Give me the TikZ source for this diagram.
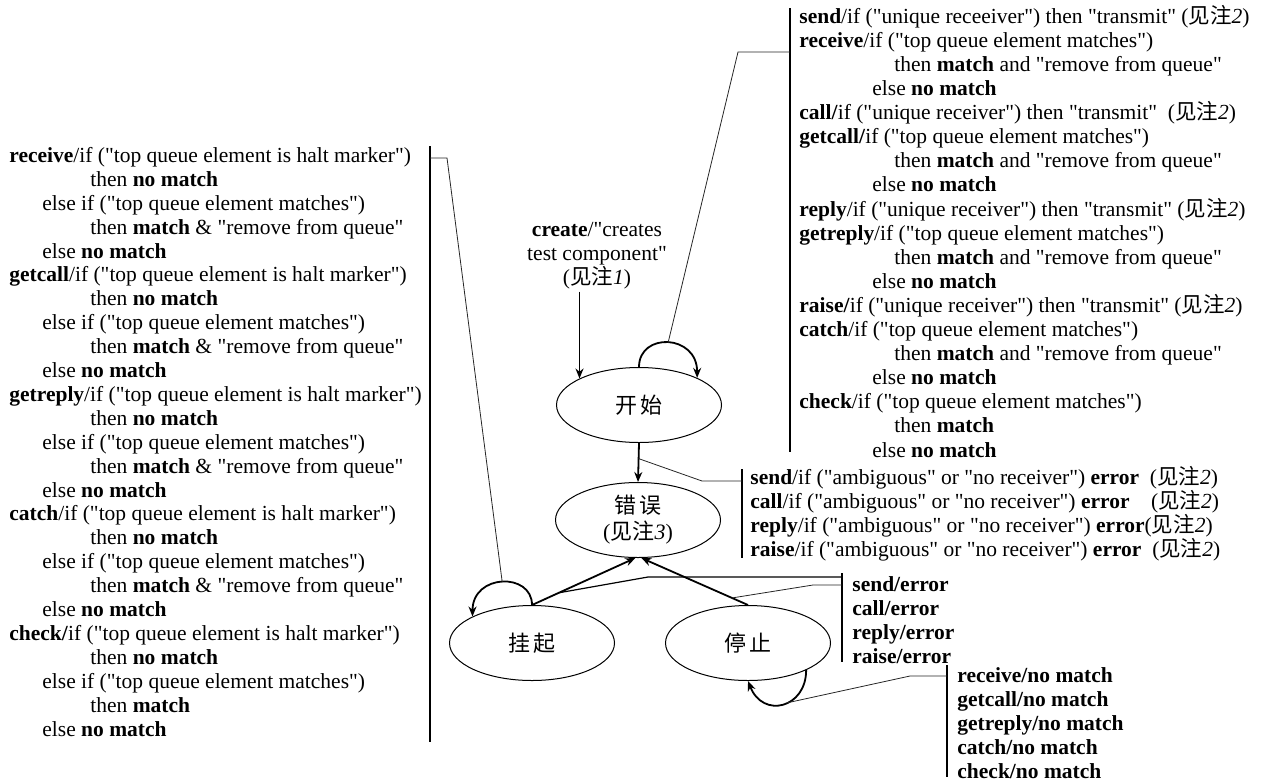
\documentclass[tikz,border=0pt]{standalone}
\usepackage{fontspec}
\setmainfont{Liberation Serif}[Ligatures=TeXOff]
\newfontfamily\cjk{Noto Sans CJK SC}
\usetikzlibrary{shapes.geometric,arrows.meta}
\newcommand{\seenote}[1]{({\cjk 见注}\textit{#1})}

\begin{document}
\begin{tikzpicture}[
        x=0.5pt, y=-0.5pt,
        state/.style={ellipse, draw, line width=0.5pt, inner sep=0pt,
            minimum width=82.5pt, minimum height=37.5pt, align=center,
            font=\fontsize{11}{13}\selectfont},
        arr/.style={-{Stealth[length=5pt,width=4pt]}, line width=0.9pt},
        link/.style={line width=0.4pt, black!85},
        bracket/.style={line width=1pt},
        rules/.style={anchor=base west, inner sep=0pt, align=left,
            font=\fontsize{10.75}{11.95}\selectfont}
    ]
    \useasboundingbox (0,0) rectangle (1267,782);

    % states
    \node[state] (kaishi) at (639,405) {\cjk 开\,始};
    \node[state] (cuowu) at (638,520) {{\cjk 错\,误}\\\seenote{3}};
    \node[state] (guaqi) at (532,643) {\cjk 挂\,起};
    \node[state] (tingzhi) at (748,643) {\cjk 停\,止};

    \node[align=center, inner sep=1pt, font=\fontsize{10.75}{11.95}\selectfont] (create) at (597,256)
        {\textbf{create}/"creates\\test component"\\\seenote{1}};

    % transitions
    \draw[arr] (create.south -| kaishi.156) -- (kaishi.156);
    \draw[arr] (kaishi.90) .. controls +(0,-35) and +(0,-44) .. (kaishi.25) coordinate[pos=0.5] (kloop);
    \draw[arr] (kaishi.south) -- (cuowu.north) coordinate[pos=0.4] (kc);
    \draw[arr] (guaqi.90) .. controls +(0,-33) and +(0,-43) .. (guaqi.156) coordinate[pos=0.5] (gloop);
    \draw[arr] (guaqi.north) -- (cuowu.266) coordinate[pos=0.26] (gc);
    \draw[arr] (tingzhi.north) -- (cuowu.275) coordinate[pos=0.15] (tc);
    \draw[arr] (tingzhi.335) .. controls +(0,38) and +(15,38) .. (tingzhi.270) coordinate[pos=0.45] (tloop);

    % rule lists (placed by the baseline of their last line)
    \node[rules] (haltrules) at (9,736) {%
        \textbf{receive}/if ("top queue element is halt marker")\\
        \hspace*{40.5pt}then \textbf{no match}\\
        \hspace*{16.5pt}else if ("top queue element matches")\\
        \hspace*{40.5pt}then \textbf{match} \& "remove from queue"\\
        \hspace*{16.5pt}else \textbf{no match}\\
        \textbf{getcall}/if ("top queue element is halt marker")\\
        \hspace*{40.5pt}then \textbf{no match}\\
        \hspace*{16.5pt}else if ("top queue element matches")\\
        \hspace*{40.5pt}then \textbf{match} \& "remove from queue"\\
        \hspace*{16.5pt}else \textbf{no match}\\
        \textbf{getreply}/if ("top queue element is halt marker")\\
        \hspace*{40.5pt}then \textbf{no match}\\
        \hspace*{16.5pt}else if ("top queue element matches")\\
        \hspace*{40.5pt}then \textbf{match} \& "remove from queue"\\
        \hspace*{16.5pt}else \textbf{no match}\\
        \textbf{catch}/if ("top queue element is halt marker")\\
        \hspace*{40.5pt}then \textbf{no match}\\
        \hspace*{16.5pt}else if ("top queue element matches")\\
        \hspace*{40.5pt}then \textbf{match} \& "remove from queue"\\
        \hspace*{16.5pt}else \textbf{no match}\\
        \textbf{check/}if ("top queue element is halt marker")\\
        \hspace*{40.5pt}then \textbf{no match}\\
        \hspace*{16.5pt}else if ("top queue element matches")\\
        \hspace*{40.5pt}then \textbf{match}\\
        \hspace*{16.5pt}else \textbf{no match}};

    \node[rules, font=\fontsize{10.75}{12.05}\selectfont] (startrules) at (799,457) {%
        \textbf{send}/if ("unique receeiver") then "transmit" \seenote{2}\\
        \textbf{receive}/if ("top queue element matches")\\
        \hspace*{47.5pt}then \textbf{match} and "remove from queue"\\
        \hspace*{36.5pt}else \textbf{no match}\\
        \textbf{call/}if ("unique receiver") then "transmit"\enspace\seenote{2}\\
        \textbf{getcall/}if ("top queue element matches")\\
        \hspace*{47.5pt}then \textbf{match} and "remove from queue"\\
        \hspace*{36.5pt}else \textbf{no match}\\
        \textbf{reply}/if ("unique receiver") then "transmit" \seenote{2}\\
        \textbf{getreply}/if ("top queue element matches")\\
        \hspace*{47.5pt}then \textbf{match} and "remove from queue"\\
        \hspace*{36.5pt}else \textbf{no match}\\
        \textbf{raise/}if ("unique receiver") then "transmit" \seenote{2}\\
        \textbf{catch}/if ("top queue element matches")\\
        \hspace*{47.5pt}then \textbf{match} and "remove from queue"\\
        \hspace*{36.5pt}else \textbf{no match}\\
        \textbf{check}/if ("top queue element matches")\\
        \hspace*{47.5pt}then \textbf{match}\\
        \hspace*{36.5pt}else \textbf{no match}};

    \node[rules] (ambigrules) at (750,556) {%
        \textbf{send}/if ("ambiguous" or "no receiver") \textbf{error}\enspace\seenote{2}\\
        \textbf{call}/if ("ambiguous" or "no receiver") \textbf{error}\quad\seenote{2}\\
        \textbf{reply}/if ("ambiguous" or "no receiver") \textbf{error}\seenote{2}\\
        \textbf{raise}/if ("ambiguous" or "no receiver") \textbf{error}\enspace\seenote{2}};

    \node[rules, font=\fontsize{10.75}{11.95}\selectfont\bfseries] (errrules) at (852,663) {%
        send/error\\call/error\\reply/error\\raise/error};

    \node[rules, font=\fontsize{10.75}{11.95}\selectfont\bfseries] (stoprules) at (957,778) {%
        receive/no match\\getcall/no match\\getreply/no match\\catch/no match\\check/no match};

    % brackets
    \draw[bracket] (430,146) -- (430,742);
    \draw[bracket] (790,8) -- (790,452);
    \draw[bracket] (742,469) -- (742,558);
    \draw[bracket] (842,573) -- (842,662);
    \draw[bracket] (947,665) -- (947,777);
    \coordinate (haltA) at (430,158);
    \coordinate (startA) at (790,52);
    \coordinate (ambigA) at (742,481);
    \coordinate (errA) at (842,577);
    \coordinate (errB) at (842,585);
    \coordinate (stopA) at (947,676);

    % leaders
    \draw[link] (haltA) -- ++(17,0) -- (gloop);
    \draw[link] (startA) -- ++(-52,0) -- (kloop);
    \draw[link] (ambigA) -- ++(-40,0) -- (kc);
    \draw[line width=0.6pt] (errA) -- ++(-194,0) -- (gc);
    \draw[link] (errB) -- ++(-29,0) -- (tc);
    \draw[link] (stopA) -- ++(-37,0) -- (tloop);
\end{tikzpicture}
\end{document}
